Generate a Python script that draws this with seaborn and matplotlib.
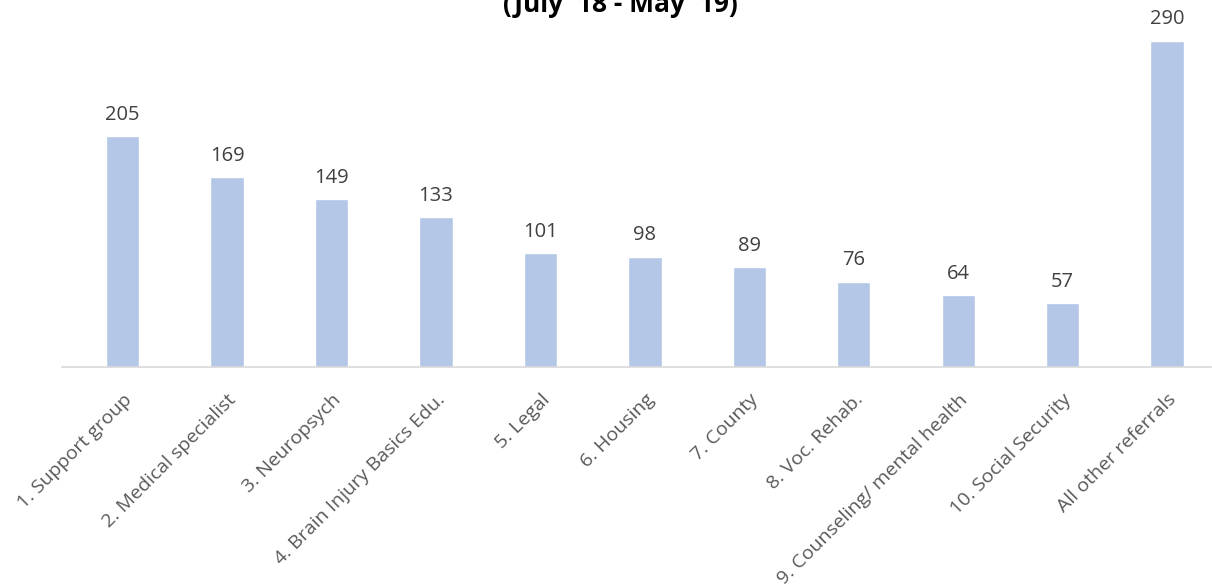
import matplotlib
matplotlib.use("Agg")
import matplotlib.pyplot as plt
import seaborn as sns
import pandas as pd

categories = ["1. Support group", "2. Medical specialist", "3. Neuropsych",
              "4. Brain Injury Basics Edu.", "5. Legal", "6. Housing", "7. County",
              "8. Voc. Rehab.", "9. Counseling/ mental health", "10. Social Security",
              "All other referrals"]
values = [205, 169, 149, 133, 101, 98, 89, 76, 64, 57, 290]
title = "(July '18 - May '19)"

sns.set_theme(style="white")
plt.rcParams['font.family'] = ['Open Sans', 'DejaVu Sans']

df = pd.DataFrame({"cat": categories, "val": values})
fig = plt.figure(figsize=(12.12, 5.88), dpi=100)
ax = fig.add_axes([62/1212, 1-367/588, (1211-62)/1212, (367-7)/588])
sns.barplot(data=df, x="cat", y="val", color="#B4C7E7", width=0.32, ax=ax, saturation=1)
ax.set_xlim(-0.58, 10.42)
ax.set_ylim(0, 320)
for i, v in enumerate(values):
    ax.text(i, v + 10, str(v), ha="center", va="bottom", fontsize=14.5, color="#404040")
ax.set_yticks([])
ax.set_xlabel("")
ax.set_ylabel("")
for s in ["top", "right", "left"]:
    ax.spines[s].set_visible(False)
ax.spines["bottom"].set_color("#D9D9D9")
ax.spines["bottom"].set_linewidth(1.2)
ax.tick_params(axis="x", length=0, pad=17)
ax.set_xticklabels(categories, rotation=45, ha="right", rotation_mode="anchor",
                   fontsize=14, color="#595959")
fig.text(620/1212, 1-12/588, title, ha="center", va="baseline", fontsize=19,
         fontweight="bold", color="#000000")
fig.savefig("out.png", dpi=100)
